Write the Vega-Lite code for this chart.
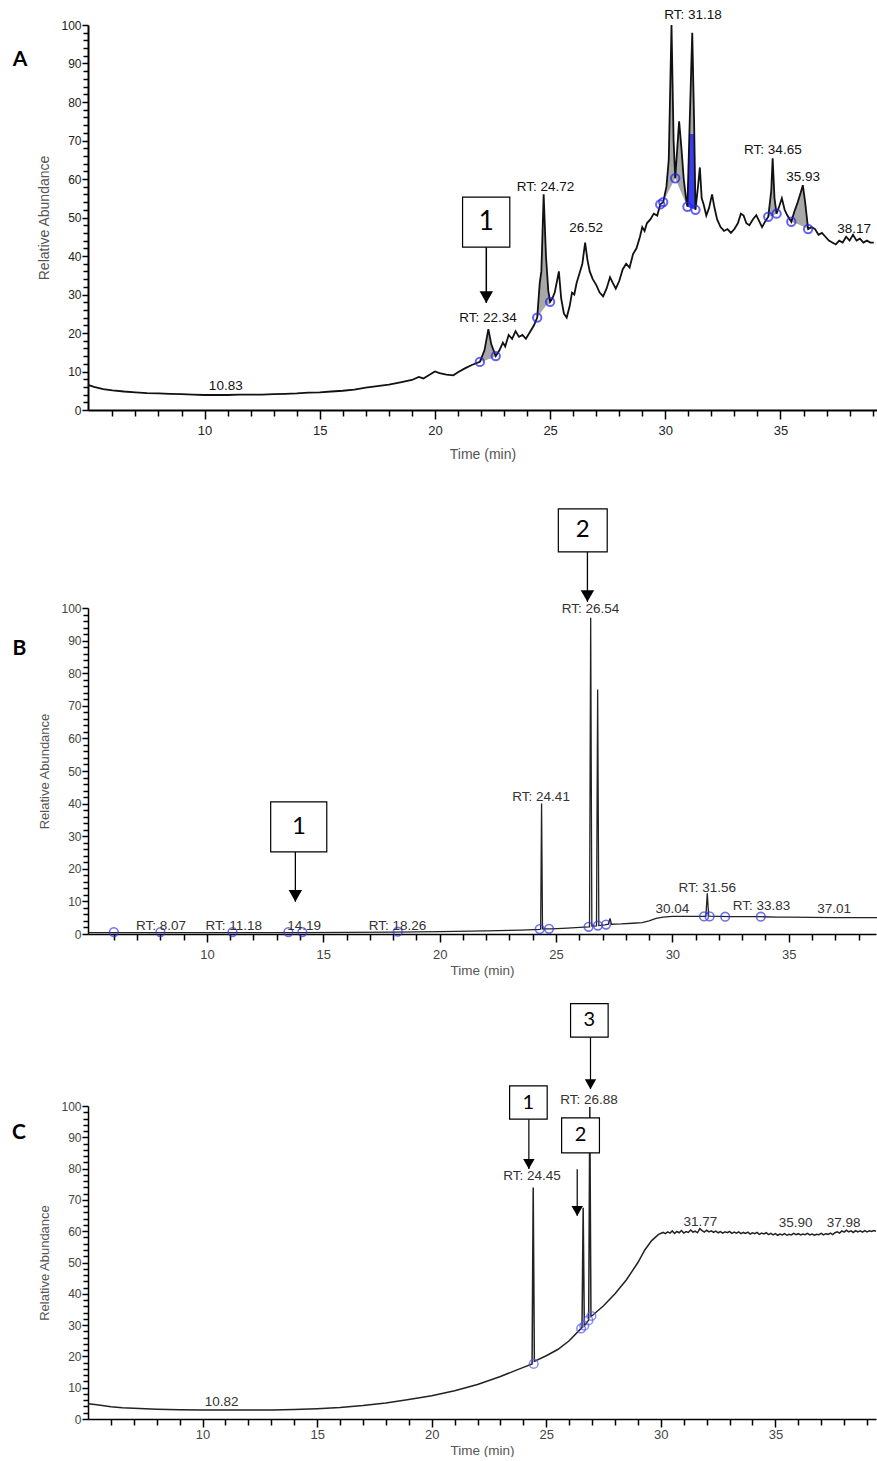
{
  "$schema": "https://vega.github.io/schema/vega-lite/v6.json",
  "padding": {"left": 12, "top": 7, "right": 0, "bottom": 0},
  "background": "white",
  "config": {
    "view": {"stroke": null},
    "axis": {"grid": false, "domainColor": "#000", "tickColor": "#000", "tickWidth": 1.5, "labelColor": "#333", "titleColor": "#555", "labelFont": "Liberation Sans", "titleFont": "Liberation Sans", "titleFontWeight": "normal", "labelOverlap": false, "labelFlush": false}
  },
  "datasets": {
    "trace": [
      {"p":"A","t":4.94,"y":6.5},{"p":"A","t":5.2,"y":6.0},{"p":"A","t":5.6,"y":5.4},{"p":"A","t":6.0,"y":5.1},{"p":"A","t":6.5,"y":4.8},{"p":"A","t":7.0,"y":4.6},{"p":"A","t":7.5,"y":4.4},{"p":"A","t":8.0,"y":4.3},{"p":"A","t":8.5,"y":4.2},{"p":"A","t":9.0,"y":4.1},{"p":"A","t":9.5,"y":4.0},{"p":"A","t":10.0,"y":3.9},{"p":"A","t":10.5,"y":3.9},{"p":"A","t":11.0,"y":3.9},{"p":"A","t":11.5,"y":4.0},{"p":"A","t":12.0,"y":4.0},{"p":"A","t":12.5,"y":4.0},{"p":"A","t":13.0,"y":4.1},{"p":"A","t":13.5,"y":4.2},{"p":"A","t":14.0,"y":4.3},{"p":"A","t":14.5,"y":4.5},{"p":"A","t":15.0,"y":4.6},{"p":"A","t":15.5,"y":4.8},{"p":"A","t":16.0,"y":5.0},{"p":"A","t":16.5,"y":5.3},{"p":"A","t":17.0,"y":5.8},{"p":"A","t":17.5,"y":6.2},{"p":"A","t":18.0,"y":6.6},{"p":"A","t":18.5,"y":7.2},{"p":"A","t":19.0,"y":7.8},{"p":"A","t":19.3,"y":8.6},{"p":"A","t":19.5,"y":8.2},{"p":"A","t":19.8,"y":9.3},{"p":"A","t":20.0,"y":10.0},{"p":"A","t":20.2,"y":9.6},{"p":"A","t":20.5,"y":9.2},{"p":"A","t":20.8,"y":9.0},{"p":"A","t":21.0,"y":9.8},{"p":"A","t":21.3,"y":10.8},{"p":"A","t":21.6,"y":11.7},{"p":"A","t":21.95,"y":12.5},{"p":"A","t":22.15,"y":15.5},{"p":"A","t":22.32,"y":21.0},{"p":"A","t":22.45,"y":17.0},{"p":"A","t":22.64,"y":14.0},{"p":"A","t":22.8,"y":15.5},{"p":"A","t":22.95,"y":17.5},{"p":"A","t":23.05,"y":16.5},{"p":"A","t":23.2,"y":19.5},{"p":"A","t":23.35,"y":18.5},{"p":"A","t":23.5,"y":20.5},{"p":"A","t":23.65,"y":19.0},{"p":"A","t":23.8,"y":19.5},{"p":"A","t":23.95,"y":18.5},{"p":"A","t":24.1,"y":20.0},{"p":"A","t":24.3,"y":22.0},{"p":"A","t":24.44,"y":24.0},{"p":"A","t":24.55,"y":33.0},{"p":"A","t":24.62,"y":36.0},{"p":"A","t":24.72,"y":56.0},{"p":"A","t":24.82,"y":40.0},{"p":"A","t":24.92,"y":31.0},{"p":"A","t":25.0,"y":28.1},{"p":"A","t":25.1,"y":29.0},{"p":"A","t":25.2,"y":30.5},{"p":"A","t":25.3,"y":33.5},{"p":"A","t":25.38,"y":36.0},{"p":"A","t":25.48,"y":29.0},{"p":"A","t":25.6,"y":25.0},{"p":"A","t":25.72,"y":24.0},{"p":"A","t":25.85,"y":27.0},{"p":"A","t":25.95,"y":30.5},{"p":"A","t":26.05,"y":30.0},{"p":"A","t":26.15,"y":33.0},{"p":"A","t":26.3,"y":36.0},{"p":"A","t":26.4,"y":38.0},{"p":"A","t":26.52,"y":43.5},{"p":"A","t":26.62,"y":39.0},{"p":"A","t":26.72,"y":36.0},{"p":"A","t":26.85,"y":34.0},{"p":"A","t":27.0,"y":32.5},{"p":"A","t":27.15,"y":30.5},{"p":"A","t":27.3,"y":29.5},{"p":"A","t":27.45,"y":31.5},{"p":"A","t":27.6,"y":34.5},{"p":"A","t":27.72,"y":33.0},{"p":"A","t":27.85,"y":31.5},{"p":"A","t":28.0,"y":33.5},{"p":"A","t":28.15,"y":36.5},{"p":"A","t":28.3,"y":38.0},{"p":"A","t":28.45,"y":37.0},{"p":"A","t":28.6,"y":40.5},{"p":"A","t":28.75,"y":42.0},{"p":"A","t":28.9,"y":45.0},{"p":"A","t":29.0,"y":47.5},{"p":"A","t":29.1,"y":46.5},{"p":"A","t":29.2,"y":48.5},{"p":"A","t":29.35,"y":49.5},{"p":"A","t":29.5,"y":51.0},{"p":"A","t":29.65,"y":50.5},{"p":"A","t":29.78,"y":53.4},{"p":"A","t":29.91,"y":54.0},{"p":"A","t":30.05,"y":58.0},{"p":"A","t":30.15,"y":65.0},{"p":"A","t":30.27,"y":100.0},{"p":"A","t":30.36,"y":70.0},{"p":"A","t":30.43,"y":60.2},{"p":"A","t":30.52,"y":68.0},{"p":"A","t":30.6,"y":75.0},{"p":"A","t":30.7,"y":68.0},{"p":"A","t":30.8,"y":60.0},{"p":"A","t":30.9,"y":55.0},{"p":"A","t":30.96,"y":52.8},{"p":"A","t":31.06,"y":75.0},{"p":"A","t":31.17,"y":98.0},{"p":"A","t":31.25,"y":75.0},{"p":"A","t":31.31,"y":52.0},{"p":"A","t":31.42,"y":58.0},{"p":"A","t":31.5,"y":63.0},{"p":"A","t":31.58,"y":55.0},{"p":"A","t":31.66,"y":53.5},{"p":"A","t":31.78,"y":50.5},{"p":"A","t":31.9,"y":52.5},{"p":"A","t":32.03,"y":56.0},{"p":"A","t":32.12,"y":53.0},{"p":"A","t":32.25,"y":49.5},{"p":"A","t":32.4,"y":47.5},{"p":"A","t":32.55,"y":46.5},{"p":"A","t":32.7,"y":47.0},{"p":"A","t":32.85,"y":46.0},{"p":"A","t":33.0,"y":47.0},{"p":"A","t":33.15,"y":48.5},{"p":"A","t":33.28,"y":51.0},{"p":"A","t":33.4,"y":50.5},{"p":"A","t":33.52,"y":48.5},{"p":"A","t":33.65,"y":48.0},{"p":"A","t":33.8,"y":49.5},{"p":"A","t":33.95,"y":50.6},{"p":"A","t":34.08,"y":49.0},{"p":"A","t":34.2,"y":47.5},{"p":"A","t":34.34,"y":49.0},{"p":"A","t":34.47,"y":50.2},{"p":"A","t":34.6,"y":57.0},{"p":"A","t":34.66,"y":65.4},{"p":"A","t":34.74,"y":55.0},{"p":"A","t":34.83,"y":51.0},{"p":"A","t":34.95,"y":53.0},{"p":"A","t":35.06,"y":55.0},{"p":"A","t":35.18,"y":52.0},{"p":"A","t":35.3,"y":50.5},{"p":"A","t":35.47,"y":48.9},{"p":"A","t":35.6,"y":51.5},{"p":"A","t":35.75,"y":54.0},{"p":"A","t":35.88,"y":56.5},{"p":"A","t":35.97,"y":58.4},{"p":"A","t":36.07,"y":54.0},{"p":"A","t":36.2,"y":47.0},{"p":"A","t":36.35,"y":47.5},{"p":"A","t":36.5,"y":47.0},{"p":"A","t":36.65,"y":45.5},{"p":"A","t":36.8,"y":46.0},{"p":"A","t":36.95,"y":45.0},{"p":"A","t":37.1,"y":44.0},{"p":"A","t":37.25,"y":43.5},{"p":"A","t":37.4,"y":43.0},{"p":"A","t":37.55,"y":44.0},{"p":"A","t":37.7,"y":43.5},{"p":"A","t":37.85,"y":45.0},{"p":"A","t":38.0,"y":44.0},{"p":"A","t":38.15,"y":45.5},{"p":"A","t":38.3,"y":44.0},{"p":"A","t":38.45,"y":44.5},{"p":"A","t":38.6,"y":43.5},{"p":"A","t":38.75,"y":44.0},{"p":"A","t":38.9,"y":43.5},{"p":"A","t":39.05,"y":43.5},
      {"p":"B","t":4.9,"y":0.4},{"p":"B","t":6.0,"y":0.4},{"p":"B","t":8.0,"y":0.4},{"p":"B","t":10.0,"y":0.4},{"p":"B","t":12.0,"y":0.4},{"p":"B","t":14.0,"y":0.45},{"p":"B","t":16.0,"y":0.5},{"p":"B","t":18.0,"y":0.55},{"p":"B","t":20.0,"y":0.7},{"p":"B","t":22.0,"y":0.95},{"p":"B","t":23.5,"y":1.2},{"p":"B","t":24.3,"y":1.4},{"p":"B","t":24.34,"y":1.5},{"p":"B","t":24.38,"y":40},{"p":"B","t":24.42,"y":1.6},{"p":"B","t":24.8,"y":1.6},{"p":"B","t":25.5,"y":1.8},{"p":"B","t":26.2,"y":2.1},{"p":"B","t":26.44,"y":2.2},{"p":"B","t":26.49,"y":97},{"p":"B","t":26.54,"y":2.4},{"p":"B","t":26.74,"y":2.5},{"p":"B","t":26.79,"y":75},{"p":"B","t":26.84,"y":2.6},{"p":"B","t":27.1,"y":2.8},{"p":"B","t":27.25,"y":3.0},{"p":"B","t":27.32,"y":4.8},{"p":"B","t":27.38,"y":3.0},{"p":"B","t":27.8,"y":3.1},{"p":"B","t":28.3,"y":3.3},{"p":"B","t":28.7,"y":3.5},{"p":"B","t":29.0,"y":4.0},{"p":"B","t":29.3,"y":4.8},{"p":"B","t":29.6,"y":5.2},{"p":"B","t":30.0,"y":5.4},{"p":"B","t":30.5,"y":5.4},{"p":"B","t":31.0,"y":5.4},{"p":"B","t":31.44,"y":5.4},{"p":"B","t":31.5,"y":12.5},{"p":"B","t":31.56,"y":5.5},{"p":"B","t":32.0,"y":5.4},{"p":"B","t":32.5,"y":5.3},{"p":"B","t":33.0,"y":5.3},{"p":"B","t":33.8,"y":5.3},{"p":"B","t":34.5,"y":5.2},{"p":"B","t":35.0,"y":5.2},{"p":"B","t":36.0,"y":5.1},{"p":"B","t":37.0,"y":5.0},{"p":"B","t":38.0,"y":5.0},{"p":"B","t":38.8,"y":5.0},
      {"p":"C","t":5.0,"y":4.9},{"p":"C","t":5.3,"y":4.6},{"p":"C","t":5.7,"y":4.2},{"p":"C","t":6.0,"y":3.9},{"p":"C","t":6.5,"y":3.6},{"p":"C","t":7.0,"y":3.4},{"p":"C","t":8.0,"y":3.1},{"p":"C","t":9.0,"y":2.95},{"p":"C","t":10.0,"y":2.9},{"p":"C","t":11.0,"y":2.85},{"p":"C","t":12.0,"y":2.85},{"p":"C","t":13.0,"y":2.9},{"p":"C","t":14.0,"y":3.05},{"p":"C","t":15.0,"y":3.3},{"p":"C","t":16.0,"y":3.7},{"p":"C","t":17.0,"y":4.3},{"p":"C","t":18.0,"y":5.1},{"p":"C","t":19.0,"y":6.2},{"p":"C","t":20.0,"y":7.4},{"p":"C","t":21.0,"y":9.0},{"p":"C","t":22.0,"y":11.0},{"p":"C","t":23.0,"y":13.6},{"p":"C","t":24.0,"y":16.5},{"p":"C","t":24.38,"y":17.6},{"p":"C","t":24.43,"y":74},{"p":"C","t":24.48,"y":18.4},{"p":"C","t":25.0,"y":20.2},{"p":"C","t":25.5,"y":22.2},{"p":"C","t":26.0,"y":25.0},{"p":"C","t":26.5,"y":28.8},{"p":"C","t":26.56,"y":29.2},{"p":"C","t":26.61,"y":67.5},{"p":"C","t":26.66,"y":29.8},{"p":"C","t":26.85,"y":31.6},{"p":"C","t":26.9,"y":99.7},{"p":"C","t":26.95,"y":32.8},{"p":"C","t":27.0,"y":33.0},{"p":"C","t":27.5,"y":36.2},{"p":"C","t":28.0,"y":40.0},{"p":"C","t":28.5,"y":44.5},{"p":"C","t":29.0,"y":50.0},{"p":"C","t":29.3,"y":54.0},{"p":"C","t":29.6,"y":57.0},{"p":"C","t":29.9,"y":59.0},{"p":"C","t":30.1,"y":59.6},{"p":"C","t":30.2,"y":59.2},{"p":"C","t":30.3,"y":59.8},{"p":"C","t":30.4,"y":59.4},{"p":"C","t":30.5,"y":60.1},{"p":"C","t":30.6,"y":59.3},{"p":"C","t":30.7,"y":59.9},{"p":"C","t":30.8,"y":59.5},{"p":"C","t":30.9,"y":60.2},{"p":"C","t":31.0,"y":59.4},{"p":"C","t":31.1,"y":59.9},{"p":"C","t":31.2,"y":59.6},{"p":"C","t":31.3,"y":60.4},{"p":"C","t":31.4,"y":59.7},{"p":"C","t":31.5,"y":60.0},{"p":"C","t":31.6,"y":59.5},{"p":"C","t":31.7,"y":60.8},{"p":"C","t":31.8,"y":60.2},{"p":"C","t":31.9,"y":59.7},{"p":"C","t":32.0,"y":60.3},{"p":"C","t":32.1,"y":59.8},{"p":"C","t":32.2,"y":60.1},{"p":"C","t":32.3,"y":59.6},{"p":"C","t":32.4,"y":60.0},{"p":"C","t":32.5,"y":59.5},{"p":"C","t":32.6,"y":59.9},{"p":"C","t":32.7,"y":59.4},{"p":"C","t":32.8,"y":59.8},{"p":"C","t":32.9,"y":59.5},{"p":"C","t":33.0,"y":59.9},{"p":"C","t":33.1,"y":59.3},{"p":"C","t":33.2,"y":59.7},{"p":"C","t":33.3,"y":59.4},{"p":"C","t":33.4,"y":59.8},{"p":"C","t":33.5,"y":59.2},{"p":"C","t":33.6,"y":59.6},{"p":"C","t":33.7,"y":59.3},{"p":"C","t":33.8,"y":59.7},{"p":"C","t":33.9,"y":59.1},{"p":"C","t":34.0,"y":59.5},{"p":"C","t":34.1,"y":59.2},{"p":"C","t":34.2,"y":59.6},{"p":"C","t":34.3,"y":59.0},{"p":"C","t":34.4,"y":59.4},{"p":"C","t":34.5,"y":59.1},{"p":"C","t":34.6,"y":59.5},{"p":"C","t":34.7,"y":58.9},{"p":"C","t":34.8,"y":59.3},{"p":"C","t":34.9,"y":58.8},{"p":"C","t":35.0,"y":59.2},{"p":"C","t":35.1,"y":58.7},{"p":"C","t":35.2,"y":59.1},{"p":"C","t":35.3,"y":58.8},{"p":"C","t":35.4,"y":59.2},{"p":"C","t":35.5,"y":58.7},{"p":"C","t":35.6,"y":59.0},{"p":"C","t":35.7,"y":58.8},{"p":"C","t":35.8,"y":59.3},{"p":"C","t":35.9,"y":58.9},{"p":"C","t":36.0,"y":59.2},{"p":"C","t":36.1,"y":58.8},{"p":"C","t":36.2,"y":59.1},{"p":"C","t":36.3,"y":58.9},{"p":"C","t":36.4,"y":59.3},{"p":"C","t":36.5,"y":58.8},{"p":"C","t":36.6,"y":59.1},{"p":"C","t":36.7,"y":58.7},{"p":"C","t":36.8,"y":59.0},{"p":"C","t":36.9,"y":58.9},{"p":"C","t":37.0,"y":59.3},{"p":"C","t":37.1,"y":58.8},{"p":"C","t":37.2,"y":59.2},{"p":"C","t":37.3,"y":59.0},{"p":"C","t":37.4,"y":59.4},{"p":"C","t":37.5,"y":58.9},{"p":"C","t":37.6,"y":59.5},{"p":"C","t":37.7,"y":59.8},{"p":"C","t":37.8,"y":59.4},{"p":"C","t":37.9,"y":60.1},{"p":"C","t":38.0,"y":59.7},{"p":"C","t":38.1,"y":60.3},{"p":"C","t":38.2,"y":59.8},{"p":"C","t":38.3,"y":60.1},{"p":"C","t":38.4,"y":59.6},{"p":"C","t":38.5,"y":60.2},{"p":"C","t":38.6,"y":59.8},{"p":"C","t":38.7,"y":60.1},{"p":"C","t":38.8,"y":59.7},{"p":"C","t":38.9,"y":60.2},{"p":"C","t":39.0,"y":59.8},{"p":"C","t":39.1,"y":60.1},{"p":"C","t":39.2,"y":59.9},{"p":"C","t":39.3,"y":60.2},{"p":"C","t":39.39,"y":60.0}
    ],
    "areas": [
      {"p":"A","k":"g","r":"a1","t":21.95,"y":12.5,"y0":12.5},{"p":"A","k":"g","r":"a1","t":22.15,"y":15.5,"y0":12.8},{"p":"A","k":"g","r":"a1","t":22.32,"y":21,"y0":13.2},{"p":"A","k":"g","r":"a1","t":22.45,"y":17,"y0":13.4},{"p":"A","k":"g","r":"a1","t":22.64,"y":14,"y0":14},
      {"p":"A","k":"g","r":"a2","t":24.44,"y":24,"y0":24},{"p":"A","k":"g","r":"a2","t":24.55,"y":33,"y0":24.9},{"p":"A","k":"g","r":"a2","t":24.62,"y":36,"y0":25.5},{"p":"A","k":"g","r":"a2","t":24.72,"y":56,"y0":26.3},{"p":"A","k":"g","r":"a2","t":24.82,"y":40,"y0":27.1},{"p":"A","k":"g","r":"a2","t":24.92,"y":31,"y0":27.5},{"p":"A","k":"g","r":"a2","t":25.0,"y":28.1,"y0":28.1},
      {"p":"A","k":"g","r":"a3","t":29.91,"y":54,"y0":54},{"p":"A","k":"g","r":"a3","t":30.05,"y":58,"y0":55.7},{"p":"A","k":"g","r":"a3","t":30.15,"y":65,"y0":56.9},{"p":"A","k":"g","r":"a3","t":30.27,"y":100,"y0":58.3},{"p":"A","k":"g","r":"a3","t":30.36,"y":70,"y0":59.4},{"p":"A","k":"g","r":"a3","t":30.43,"y":60.2,"y0":60.2},
      {"p":"A","k":"g","r":"a3b","t":30.43,"y":60.2,"y0":60.2},{"p":"A","k":"g","r":"a3b","t":30.52,"y":68,"y0":58.9},{"p":"A","k":"g","r":"a3b","t":30.6,"y":75,"y0":57.8},{"p":"A","k":"g","r":"a3b","t":30.7,"y":68,"y0":56.4},{"p":"A","k":"g","r":"a3b","t":30.8,"y":60,"y0":55.0},{"p":"A","k":"g","r":"a3b","t":30.9,"y":55,"y0":53.6},{"p":"A","k":"g","r":"a3b","t":30.96,"y":52.8,"y0":52.8},
      {"p":"A","k":"g","r":"a4","t":30.96,"y":52.8,"y0":52.8},{"p":"A","k":"g","r":"a4","t":31.06,"y":75,"y0":52.6},{"p":"A","k":"g","r":"a4","t":31.17,"y":98,"y0":52.4},{"p":"A","k":"g","r":"a4","t":31.25,"y":75,"y0":52.2},{"p":"A","k":"g","r":"a4","t":31.31,"y":52,"y0":52},
      {"p":"A","k":"g","r":"a5","t":34.47,"y":50.2,"y0":50.2},{"p":"A","k":"g","r":"a5","t":34.6,"y":57,"y0":50.4},{"p":"A","k":"g","r":"a5","t":34.66,"y":65.4,"y0":50.5},{"p":"A","k":"g","r":"a5","t":34.74,"y":55,"y0":50.7},{"p":"A","k":"g","r":"a5","t":34.83,"y":51,"y0":51},
      {"p":"A","k":"g","r":"a6","t":35.47,"y":48.9,"y0":48.9},{"p":"A","k":"g","r":"a6","t":35.6,"y":51.5,"y0":48.6},{"p":"A","k":"g","r":"a6","t":35.75,"y":54,"y0":48.3},{"p":"A","k":"g","r":"a6","t":35.88,"y":56.5,"y0":47.9},{"p":"A","k":"g","r":"a6","t":35.97,"y":58.4,"y0":47.7},{"p":"A","k":"g","r":"a6","t":36.07,"y":54,"y0":47.4},{"p":"A","k":"g","r":"a6","t":36.2,"y":47,"y0":47},
      {"p":"A","k":"b","r":"b1","t":30.96,"y":52.8,"y0":52.8},{"p":"A","k":"b","r":"b1","t":31.01,"y":63.9,"y0":52.7},{"p":"A","k":"b","r":"b1","t":31.045,"y":71.7,"y0":52.6},{"p":"A","k":"b","r":"b1","t":31.255,"y":71.7,"y0":52.2},{"p":"A","k":"b","r":"b1","t":31.28,"y":63.5,"y0":52.1},{"p":"A","k":"b","r":"b1","t":31.31,"y":52,"y0":52}
    ],
    "dots": [
      {"p":"A","t":21.95,"y":12.5},{"p":"A","t":22.64,"y":14},{"p":"A","t":24.44,"y":24},{"p":"A","t":25.0,"y":28.1},{"p":"A","t":29.78,"y":53.4},{"p":"A","t":29.91,"y":54},{"p":"A","t":30.43,"y":60.2},{"p":"A","t":30.96,"y":52.8},{"p":"A","t":31.31,"y":52},{"p":"A","t":34.47,"y":50.2},{"p":"A","t":34.83,"y":51},{"p":"A","t":35.47,"y":48.9},{"p":"A","t":36.2,"y":47},
      {"p":"B","t":6.0,"y":0.6},{"p":"B","t":8.0,"y":0.6},{"p":"B","t":11.1,"y":0.6},{"p":"B","t":13.5,"y":0.6},{"p":"B","t":14.1,"y":0.6},{"p":"B","t":18.2,"y":0.7},{"p":"B","t":24.3,"y":1.5},{"p":"B","t":24.7,"y":1.6},{"p":"B","t":26.4,"y":2.2},{"p":"B","t":26.8,"y":2.6},{"p":"B","t":27.15,"y":2.9},{"p":"B","t":31.36,"y":5.4},{"p":"B","t":31.6,"y":5.4},{"p":"B","t":32.27,"y":5.3},{"p":"B","t":33.8,"y":5.3},
      {"p":"C","t":24.45,"y":17.6},{"p":"C","t":26.52,"y":28.9},{"p":"C","t":26.66,"y":29.8},{"p":"C","t":26.84,"y":31.5},{"p":"C","t":26.97,"y":32.9}
    ],
    "labels": [
      {"p":"A","t":10.92,"y":6.3,"s":"10.83"},{"p":"A","t":22.3,"y":24,"s":"RT: 22.34"},{"p":"A","t":24.8,"y":57.8,"s":"RT: 24.72"},{"p":"A","t":26.56,"y":47.2,"s":"26.52"},{"p":"A","t":31.2,"y":102.6,"s":"RT: 31.18"},{"p":"A","t":34.67,"y":67.5,"s":"RT: 34.65"},{"p":"A","t":35.98,"y":60.5,"s":"35.93"},{"p":"A","t":38.2,"y":47,"s":"38.17"},
      {"p":"B","t":8.03,"y":2.6,"s":"RT: 8.07"},{"p":"B","t":11.15,"y":2.6,"s":"RT: 11.18"},{"p":"B","t":14.18,"y":2.6,"s":"14.19"},{"p":"B","t":18.19,"y":2.6,"s":"RT: 18.26"},{"p":"B","t":24.36,"y":42,"s":"RT: 24.41"},{"p":"B","t":26.48,"y":99.7,"s":"RT: 26.54"},{"p":"B","t":30.0,"y":7.6,"s":"30.04"},{"p":"B","t":31.5,"y":14.2,"s":"RT: 31.56"},{"p":"B","t":33.83,"y":8.6,"s":"RT: 33.83"},{"p":"B","t":36.95,"y":7.6,"s":"37.01"},
      {"p":"C","t":10.83,"y":5.4,"s":"10.82"},{"p":"C","t":24.38,"y":77.6,"s":"RT: 24.45"},{"p":"C","t":26.86,"y":101.9,"s":"RT: 26.88"},{"p":"C","t":31.73,"y":63,"s":"31.77"},{"p":"C","t":35.88,"y":62.7,"s":"35.90"},{"p":"C","t":37.98,"y":62.7,"s":"37.98"}
    ],
    "boxes": [
      {"p":"A","t":21.2,"t2":23.25,"y":55.3,"y2":42.3},
      {"p":"B","t":25.1,"t2":27.2,"y":130.4,"y2":117.2},{"p":"B","t":12.74,"t2":15.15,"y":40.5,"y2":25.2},
      {"p":"C","t":26.06,"t2":27.7,"y":132.7,"y2":122},{"p":"C","t":23.4,"t2":25.04,"y":106.4,"y2":95.8},{"p":"C","t":25.67,"t2":27.32,"y":96.2,"y2":85}
    ],
    "nums": [
      {"p":"A","t":22.23,"y":48.8,"s":"1"},
      {"p":"B","t":26.15,"y":123.8,"s":"2"},{"p":"B","t":13.95,"y":32.85,"s":"1"},
      {"p":"C","t":26.88,"y":127.35,"s":"3"},{"p":"C","t":24.22,"y":101.1,"s":"1"},{"p":"C","t":26.5,"y":90.6,"s":"2"}
    ],
    "arrows": [
      {"p":"A","t":22.23,"y":42.3,"y2":27.8},
      {"p":"B","t":26.35,"y":117.2,"y2":101.9},{"p":"B","t":13.8,"y":25.2,"y2":9.9},
      {"p":"C","t":26.93,"y":122,"y2":105.4},{"p":"C","t":24.24,"y":95.8,"y2":79.9},{"p":"C","t":26.35,"y":79.8,"y2":64.9}
    ],
    "heads": [
      {"p":"A","t":22.23,"y":27.8},
      {"p":"B","t":26.35,"y":101.9},{"p":"B","t":13.8,"y":9.9},
      {"p":"C","t":26.93,"y":105.4},{"p":"C","t":24.24,"y":79.9},{"p":"C","t":26.35,"y":64.9}
    ],
    "letters": [
      {"p":"A","t":1.99,"y":90.9,"s":"A"},{"p":"B","t":1.94,"y":87.4,"s":"B"},{"p":"C","t":1.99,"y":91.5,"s":"C"}
    ]
  },
  "columns": 1,
  "spacing": 47,
  "align": "none",
  "bounds": "full",
  "concat": [
    {
      "width": 789, "height": 385,
      "encoding": {
        "x": {"field": "t", "type": "quantitative", "scale": {"domain": [4.94, 39.19], "nice": false, "zero": false},
          "axis": {"title": "Time (min)", "values": [6,7,8,9,10,11,12,13,14,15,16,17,18,19,20,21,22,23,24,25,26,27,28,29,30,31,32,33,34,35,36,37,38,39], "labelExpr": "datum.value % 5 === 0 ? datum.label : ''", "tickSize": {"condition": {"test": "datum.value % 5 === 0", "value": 9}, "value": 6}, "labelPadding": 5, "titlePadding": 10, "labelFontSize": 13, "titleFontSize": 14, "domainWidth": 2, "labelColor": "#222"}},
        "y": {"field": "y", "type": "quantitative", "scale": {"domain": [0, 100], "nice": false},
          "axis": {"title": "Relative Abundance", "values": [0,2,4,6,8,10,12,14,16,18,20,22,24,26,28,30,32,34,36,38,40,42,44,46,48,50,52,54,56,58,60,62,64,66,68,70,72,74,76,78,80,82,84,86,88,90,92,94,96,98,100], "labelExpr": "datum.value % 10 === 0 ? datum.label : ''", "tickSize": {"condition": {"test": "datum.value % 10 === 0", "value": 6}, "value": 5}, "labelPadding": 1, "titlePadding": 9, "labelFontSize": 12, "titleFontSize": 14, "domainWidth": 2, "labelColor": "#222"}}
      },
      "layer": [
        {"data": {"name": "areas"}, "transform": [{"filter": "datum.p === 'A' && datum.k === 'g'"}], "mark": {"type": "area", "color": "#a8a8a8"}, "encoding": {"y2": {"field": "y0"}, "detail": {"field": "r"}}},
        {"data": {"name": "areas"}, "transform": [{"filter": "datum.p === 'A' && datum.k === 'b'"}], "mark": {"type": "area", "color": "#3b3bf0"}, "encoding": {"y2": {"field": "y0"}, "detail": {"field": "r"}}},
        {"data": {"name": "trace"}, "transform": [{"filter": "datum.p === 'A'"}], "mark": {"type": "line", "color": "#111", "strokeWidth": 1.8}},
        {"data": {"name": "dots"}, "transform": [{"filter": "datum.p === 'A'"}], "mark": {"type": "point", "shape": "circle", "filled": false, "size": 70, "stroke": "#2222ee", "strokeWidth": 2}},
        {"data": {"name": "arrows"}, "transform": [{"filter": "datum.p === 'A'"}], "mark": {"type": "rule", "color": "#000", "strokeWidth": 1.5}, "encoding": {"y2": {"field": "y2"}}},
        {"data": {"name": "heads"}, "transform": [{"filter": "datum.p === 'A'"}], "mark": {"type": "point", "shape": "triangle-down", "filled": true, "color": "#000", "size": 180, "opacity": 1, "yOffset": -5.8}},
        {"data": {"name": "boxes"}, "transform": [{"filter": "datum.p === 'A'"}], "mark": {"type": "rect", "fill": "white", "stroke": "#000", "strokeWidth": 1.2}, "encoding": {"x2": {"field": "t2"}, "y2": {"field": "y2"}}},
        {"data": {"name": "nums"}, "transform": [{"filter": "datum.p === 'A'"}], "mark": {"type": "text", "font": "Lato", "fontSize": 26, "color": "#000", "baseline": "middle", "align": "center"}, "encoding": {"text": {"field": "s"}}},
        {"data": {"name": "labels"}, "transform": [{"filter": "datum.p === 'A'"}], "mark": {"type": "text", "font": "Liberation Sans", "fontSize": 13.5, "color": "#111", "baseline": "middle", "align": "center"}, "encoding": {"text": {"field": "s"}}},
        {"data": {"name": "letters"}, "transform": [{"filter": "datum.p === 'A'"}], "mark": {"type": "text", "font": "Lato", "fontWeight": "bold", "fontSize": 21, "color": "#000", "baseline": "middle", "align": "center"}, "encoding": {"text": {"field": "s"}}}
      ]
    },
    {
      "columns": 1,
      "spacing": 26,
      "align": "none",
      "bounds": "full",
      "concat": [
        {
          "width": 788, "height": 326,
          "encoding": {
            "x": {"field": "t", "type": "quantitative", "scale": {"domain": [4.89, 38.75], "nice": false, "zero": false},
              "axis": {"title": "Time (min)", "values": [6,7,8,9,10,11,12,13,14,15,16,17,18,19,20,21,22,23,24,25,26,27,28,29,30,31,32,33,34,35,36,37,38], "labelExpr": "datum.value % 5 === 0 ? datum.label : ''", "tickSize": {"condition": {"test": "datum.value % 5 === 0", "value": 8}, "value": 6}, "labelPadding": 6, "titlePadding": 2, "labelFontSize": 13, "titleFontSize": 13.5, "domainWidth": 1.5, "labelColor": "#444"}},
            "y": {"field": "y", "type": "quantitative", "scale": {"domain": [0, 100], "nice": false},
              "axis": {"title": "Relative Abundance", "values": [0,2,4,6,8,10,12,14,16,18,20,22,24,26,28,30,32,34,36,38,40,42,44,46,48,50,52,54,56,58,60,62,64,66,68,70,72,74,76,78,80,82,84,86,88,90,92,94,96,98,100], "labelExpr": "datum.value % 10 === 0 ? datum.label : ''", "tickSize": {"condition": {"test": "datum.value % 10 === 0", "value": 6}, "value": 5}, "labelPadding": 1, "titlePadding": 9, "labelFontSize": 12, "titleFontSize": 13, "domainWidth": 1.5, "labelColor": "#444"}}
          },
          "layer": [
            {"data": {"name": "trace"}, "transform": [{"filter": "datum.p === 'B'"}], "mark": {"type": "line", "color": "#222", "strokeWidth": 1.3}},
            {"data": {"name": "dots"}, "transform": [{"filter": "datum.p === 'B'"}], "mark": {"type": "point", "shape": "circle", "filled": false, "size": 75, "stroke": "#3535e8", "strokeWidth": 1.6}},
            {"data": {"name": "arrows"}, "transform": [{"filter": "datum.p === 'B'"}], "mark": {"type": "rule", "color": "#000", "strokeWidth": 1.3}, "encoding": {"y2": {"field": "y2"}}},
            {"data": {"name": "heads"}, "transform": [{"filter": "datum.p === 'B'"}], "mark": {"type": "point", "shape": "triangle-down", "filled": true, "color": "#000", "size": 180, "opacity": 1, "yOffset": -5.8}},
            {"data": {"name": "boxes"}, "transform": [{"filter": "datum.p === 'B'"}], "mark": {"type": "rect", "fill": "white", "stroke": "#000", "strokeWidth": 1.2}, "encoding": {"x2": {"field": "t2"}, "y2": {"field": "y2"}}},
            {"data": {"name": "nums"}, "transform": [{"filter": "datum.p === 'B'"}], "mark": {"type": "text", "font": "Lato", "fontSize": 24, "color": "#000", "baseline": "middle", "align": "center"}, "encoding": {"text": {"field": "s"}}},
            {"data": {"name": "labels"}, "transform": [{"filter": "datum.p === 'B'"}], "mark": {"type": "text", "font": "Liberation Sans", "fontSize": 13.5, "color": "#333", "baseline": "middle", "align": "center"}, "encoding": {"text": {"field": "s"}}},
            {"data": {"name": "letters"}, "transform": [{"filter": "datum.p === 'B'"}], "mark": {"type": "text", "font": "Lato", "fontWeight": "bold", "fontSize": 21, "color": "#000", "baseline": "middle", "align": "center"}, "encoding": {"text": {"field": "s"}}}
          ]
        },
        {
          "width": 788, "height": 313,
          "encoding": {
            "x": {"field": "t", "type": "quantitative", "scale": {"domain": [5.0, 39.39], "nice": false, "zero": false},
              "axis": {"title": "Time (min)", "values": [6,7,8,9,10,11,12,13,14,15,16,17,18,19,20,21,22,23,24,25,26,27,28,29,30,31,32,33,34,35,36,37,38,39], "labelExpr": "datum.value % 5 === 0 ? datum.label : ''", "tickSize": {"condition": {"test": "datum.value % 5 === 0", "value": 8}, "value": 6}, "labelPadding": 1, "titlePadding": 2, "labelFontSize": 13, "titleFontSize": 13.5, "domainWidth": 1.5, "labelColor": "#444"}},
            "y": {"field": "y", "type": "quantitative", "scale": {"domain": [0, 100], "nice": false},
              "axis": {"title": "Relative Abundance", "values": [0,2,4,6,8,10,12,14,16,18,20,22,24,26,28,30,32,34,36,38,40,42,44,46,48,50,52,54,56,58,60,62,64,66,68,70,72,74,76,78,80,82,84,86,88,90,92,94,96,98,100], "labelExpr": "datum.value % 10 === 0 ? datum.label : ''", "tickSize": {"condition": {"test": "datum.value % 10 === 0", "value": 6}, "value": 5}, "labelPadding": 1, "titlePadding": 9, "labelFontSize": 12, "titleFontSize": 13, "domainWidth": 1.5, "labelColor": "#444"}}
          },
          "layer": [
            {"data": {"name": "trace"}, "transform": [{"filter": "datum.p === 'C'"}], "mark": {"type": "line", "color": "#222", "strokeWidth": 1.5}},
            {"data": {"name": "dots"}, "transform": [{"filter": "datum.p === 'C'"}], "mark": {"type": "point", "shape": "circle", "filled": false, "size": 75, "stroke": "#5a5af0", "strokeWidth": 1.5}},
            {"data": {"name": "arrows"}, "transform": [{"filter": "datum.p === 'C'"}], "mark": {"type": "rule", "color": "#000", "strokeWidth": 1.2}, "encoding": {"y2": {"field": "y2"}}},
            {"data": {"name": "heads"}, "transform": [{"filter": "datum.p === 'C'"}], "mark": {"type": "point", "shape": "triangle-down", "filled": true, "color": "#000", "size": 130, "opacity": 1, "yOffset": -4.9}},
            {"data": {"name": "boxes"}, "transform": [{"filter": "datum.p === 'C'"}], "mark": {"type": "rect", "fill": "white", "stroke": "#000", "strokeWidth": 1.2}, "encoding": {"x2": {"field": "t2"}, "y2": {"field": "y2"}}},
            {"data": {"name": "nums"}, "transform": [{"filter": "datum.p === 'C'"}], "mark": {"type": "text", "font": "Lato", "fontSize": 20, "color": "#000", "baseline": "middle", "align": "center"}, "encoding": {"text": {"field": "s"}}},
            {"data": {"name": "labels"}, "transform": [{"filter": "datum.p === 'C'"}], "mark": {"type": "text", "font": "Liberation Sans", "fontSize": 13.5, "color": "#333", "baseline": "middle", "align": "center"}, "encoding": {"text": {"field": "s"}}},
            {"data": {"name": "letters"}, "transform": [{"filter": "datum.p === 'C'"}], "mark": {"type": "text", "font": "Lato", "fontWeight": "bold", "fontSize": 21, "color": "#000", "baseline": "middle", "align": "center"}, "encoding": {"text": {"field": "s"}}}
          ]
        }
      ]
    }
  ]
}
